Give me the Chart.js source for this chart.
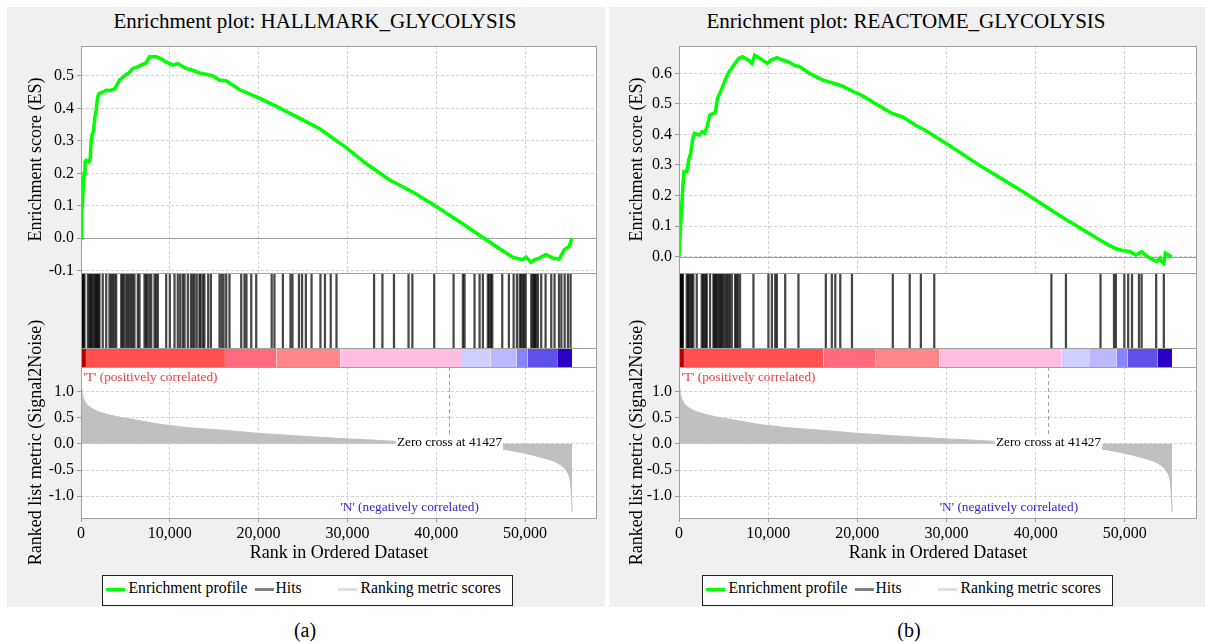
<!DOCTYPE html>
<html>
<head>
<meta charset="utf-8">
<title>GSEA enrichment plots</title>
<script src="https://cdn.jsdelivr.net/npm/chart.js@4.4.1/dist/chart.umd.min.js"></script>
<style>
  html, body { margin: 0; padding: 0; background: #fff; }
  body { position: relative; width: 1205px; height: 642px; overflow: hidden;
         font-family: "Liberation Serif", "Times New Roman", serif; color: #000; }
  .panel { position: absolute; top: 7px; height: 600px; background: #f0f0f0; }
  canvas { position: absolute; }
  .plot-title { position: absolute; top: 11px; font-size: 21px; line-height: 1; white-space: nowrap; transform: translateX(-50%); }
  .legend { position: absolute; top: 575px; width: 411px; height: 31px; box-sizing: border-box; border: 1.5px solid #222; background: #fff; }
  .legend i { position: absolute; top: 12px; width: 19px; height: 2.5px; }
  .legend span { position: absolute; top: 3.5px; font-size: 15.7px; line-height: 1; white-space: nowrap; }
  .caption { position: absolute; top: 620px; font-size: 20px; line-height: 1; transform: translateX(-50%); }
</style>
</head>
<body>
<div class="panel" style="left:7px;width:598px"></div>
<div class="panel" style="left:609px;width:596px"></div>
<div class="plot-title" style="left:315px">Enrichment plot: HALLMARK_GLYCOLYSIS</div>
<div class="plot-title" style="left:906px">Enrichment plot: REACTOME_GLYCOLYSIS</div>

<div class="legend" style="left:102px">
  <i style="left:2.5px;background:#00ff00"></i><span style="left:25.5px">Enrichment profile</span>
  <i style="left:151.5px;background:#808080"></i><span style="left:172.5px">Hits</span>
  <i style="left:234.5px;background:#e0e0e0"></i><span style="left:257.5px">Ranking metric scores</span>
</div>
<div class="legend" style="left:702px">
  <i style="left:2.5px;background:#00ff00"></i><span style="left:25.5px">Enrichment profile</span>
  <i style="left:151.5px;background:#808080"></i><span style="left:172.5px">Hits</span>
  <i style="left:234.5px;background:#e0e0e0"></i><span style="left:257.5px">Ranking metric scores</span>
</div>
<div class="caption" style="left:305px">(a)</div>
<div class="caption" style="left:909px">(b)</div>

<script>
/* ================= DATA ================= */

// HALLMARK_GLYCOLYSIS running enrichment score
const hallmarkRanks = [0, 60, 150, 250, 350, 450, 580, 900, 1030, 1150, 1260, 1400, 1550, 1710, 1850, 2000, 2300, 2830, 3300, 3770,
    4000, 4330, 4900, 5400, 5830, 6300, 6770, 7330, 7700, 8460, 9000, 9580, 10330, 10890, 11830, 12500, 13330, 14100, 14830, 15580,
    16330, 17830, 19890, 21950, 24580, 26830, 29830, 32080, 34720, 37500, 40000, 42500, 45050, 47000, 48600, 49720, 50100, 50660, 51100, 51600,
    52350, 53100, 53850, 54410, 54970, 55270];
const hallmarkES = [0, 0.08, 0.1, 0.16, 0.2, 0.235, 0.24, 0.235, 0.245, 0.3, 0.32, 0.33, 0.37, 0.395, 0.43, 0.445, 0.448, 0.456, 0.455, 0.46,
    0.47, 0.487, 0.5, 0.51, 0.523, 0.527, 0.533, 0.54, 0.559, 0.559, 0.553, 0.543, 0.533, 0.538, 0.523, 0.518, 0.509, 0.505, 0.5, 0.487,
    0.485, 0.458, 0.434, 0.407, 0.37, 0.338, 0.28, 0.23, 0.18, 0.14, 0.098, 0.053, 0.006, -0.03, -0.058, -0.066, -0.058, -0.074, -0.066, -0.061,
    -0.05, -0.061, -0.064, -0.035, -0.025, 0];
const hallmarkHits = [20, 110, 200, 300, 390, 770, 960, 1070, 1180, 1330, 1520, 1630, 1750, 1860, 1970, 2080, 2450, 2840, 3210, 3400,
    3580, 3770, 3960, 4530, 4670, 4840, 5090, 5270, 5460, 5650, 5830, 6020, 6400, 6590, 7150, 7320, 7490, 7710, 7910, 8280,
    8470, 8650, 9590, 10000, 10530, 10900, 11170, 11460, 11660, 12030, 12380, 12590, 12780, 13030, 13340, 13460, 13720, 13890, 14320, 14620,
    15600, 15830, 16050, 16350, 16720, 18040, 18410, 18630, 19170, 19730, 21470, 21780, 22730, 23590, 23810, 24540, 24890, 25320, 25960, 26960,
    27470, 28120, 28770, 33000, 33940, 35240, 36880, 37310, 39770, 41950, 43000, 43190, 44310, 44880, 45250, 45810, 45980, 46150, 46310, 47430,
    48180, 48710, 49080, 49390, 49560, 49730, 49900, 50070, 50700, 50850, 51000, 51130, 51260, 51450, 51820, 52310, 52950, 53320, 53820, 54090,
    54460, 54830, 55130];

// REACTOME_GLYCOLYSIS running enrichment score
const reactomeRanks = [0, 130, 260, 430, 560, 870, 1080, 1300, 1520, 1730, 2290, 2590, 2890, 3150, 3450, 3880, 4090, 4310, 4740, 5170,
    5600, 6030, 6680, 7110, 7750, 8180, 8490, 9260, 9910, 10340, 10980, 11630, 12280, 12920, 13570, 14640, 16150, 17440, 18300, 19590,
    20450, 23900, 25190, 26480, 27560, 29930, 34240, 38550, 42850, 47160, 48880, 49730, 50600, 51240, 51890, 52530, 53180, 53610, 53950, 54130,
    54380, 54560, 54900, 55250];
const reactomeES = [0, 0.076, 0.142, 0.229, 0.278, 0.278, 0.316, 0.338, 0.382, 0.404, 0.398, 0.409, 0.404, 0.425, 0.464, 0.469, 0.475, 0.518, 0.546, 0.578,
    0.605, 0.622, 0.649, 0.655, 0.644, 0.633, 0.66, 0.646, 0.633, 0.644, 0.652, 0.644, 0.638, 0.627, 0.622, 0.6, 0.578, 0.567, 0.559, 0.54,
    0.529, 0.469, 0.456, 0.431, 0.415, 0.371, 0.289, 0.213, 0.131, 0.055, 0.027, 0.02, 0.016, 0.005, 0.016, 0, -0.011, -0.016, -0.005, -0.016,
    -0.022, 0.011, 0.005, -0.002];
const reactomeHits = [10, 60, 120, 200, 280, 360, 440, 870, 1000, 1150, 1300, 1450, 1610, 1990, 2550, 2700, 2850, 3000, 3110, 3480,
    3860, 3980, 4110, 4230, 4420, 4550, 4700, 4850, 5000, 5200, 5360, 5540, 5700, 5920, 6290, 6450, 6600, 6850, 8350, 10030,
    10420, 10790, 10980, 11910, 13400, 16470, 17140, 17530, 18090, 19400, 23980, 25880, 27130, 28630, 41770, 43400, 47280, 48790, 49000, 49950,
    50380, 50810, 51590, 51890, 53520, 54380];

// ranked list metric (Signal2Noise), shared by both gene sets
const metricRanks = [0, 100, 300, 600, 1000, 1500, 2000, 3000, 4000, 5000, 6000, 7000, 8000, 9000, 10000,
    12000, 14000, 16000, 18000, 20000, 22000, 24000, 26000, 28000, 30000, 32000, 34000, 36000, 38000, 40000,
    41427, 43000, 45000, 47000, 48000, 49000, 50000, 51000, 52000, 53000, 53500, 54000, 54500, 54900, 55100, 55200, 55300];
const metricValues = [1.05, 0.98, 0.86, 0.76, 0.7, 0.65, 0.61, 0.56, 0.52, 0.49, 0.46, 0.43, 0.4, 0.37, 0.35,
    0.31, 0.285, 0.26, 0.23, 0.2, 0.18, 0.155, 0.135, 0.115, 0.095, 0.08, 0.06, 0.045, 0.03, 0.012,
    0, -0.02, -0.05, -0.09, -0.115, -0.145, -0.18, -0.22, -0.265, -0.315, -0.35, -0.4, -0.47, -0.58, -0.7, -0.9, -1.3];
const ZERO_CROSS = 41427;

// heat bar bins along the ranked list
const heatEdges = [0, 550, 16200, 22000, 29200, 42900, 46100, 49060, 50300, 53700, 55300];
const heatColors = ['#b40000', '#ff4f4f', '#ff6a7c', '#ff8686', '#ffbde1', '#cfcffd', '#bcb8fc', '#8686fa', '#5f50ea', '#2a00c6'];

// rank axis tick labels
const rankTicks = [0, 10000, 20000, 30000, 40000, 50000];

/* ================= LAYOUT ================= */

const SERIF = "'Liberation Serif', 'Times New Roman', serif";
const X_MAX = 58100;
const HEAT_TOP = 0.2;
const ES_TOP = 46, ES_BOTTOM = 273, BAR_BOTTOM = 367, METRIC_BOTTOM = 518;

Chart.defaults.font.family = SERIF;
Chart.defaults.color = '#000';

const panels = [
    { left: 8, plotLeft: 81, plotRight: 597, esRanks: hallmarkRanks, esScores: hallmarkES,
      esMin: -0.107, esMax: 0.592, hits: hallmarkHits },
    { left: 609, plotLeft: 679, plotRight: 1197, esRanks: reactomeRanks, esScores: reactomeES,
      esMin: -0.054, esMax: 0.69, hits: reactomeHits }
];

/* ================= PLUGINS ================= */

const plotBackground = {
    id: 'plotBackground',
    beforeDraw(chart) {
        const { ctx, chartArea: a } = chart;
        ctx.save();
        ctx.fillStyle = '#fff';
        ctx.fillRect(a.left, a.top, a.right - a.left, a.bottom - a.top);
        ctx.restore();
    }
};

const plotFrame = {
    id: 'plotFrame',
    afterDatasetsDraw(chart) {
        const { ctx, chartArea: a } = chart;
        ctx.save();
        ctx.strokeStyle = '#a0a0a0';
        ctx.lineWidth = 1;
        ctx.strokeRect(a.left + 0.5, a.top + 0.5, a.right - a.left - 1, a.bottom - a.top);
        ctx.restore();
    }
};

function horizontalRule(chart, value) {
    const { ctx, chartArea: a, scales } = chart;
    const py = Math.round(scales.y.getPixelForValue(value)) + 0.5;
    ctx.save();
    ctx.strokeStyle = '#a0a0a0';
    ctx.lineWidth = 1;
    ctx.beginPath();
    ctx.moveTo(a.left, py);
    ctx.lineTo(a.right, py);
    ctx.stroke();
    ctx.restore();
}

const esZeroLine = {
    id: 'esZeroLine',
    beforeDatasetsDraw(chart) { horizontalRule(chart, 0); }
};

const heatSeparator = {
    id: 'heatSeparator',
    afterDatasetsDraw(chart) { horizontalRule(chart, HEAT_TOP); }
};

const metricNotes = {
    id: 'metricNotes',
    afterDatasetsDraw(chart) {
        const { ctx, chartArea: a, scales } = chart;
        const x0 = Math.round(scales.x.getPixelForValue(ZERO_CROSS)) + 0.5;
        const y0 = scales.y.getPixelForValue(0);
        ctx.save();

        // zero cross marker
        ctx.strokeStyle = '#a0a0a0';
        ctx.lineWidth = 1;
        ctx.setLineDash([4, 3]);
        ctx.beginPath();
        ctx.moveTo(x0, a.top);
        ctx.lineTo(x0, y0);
        ctx.stroke();
        ctx.setLineDash([]);

        ctx.font = '13.3px ' + SERIF;
        const label = 'Zero cross at ' + ZERO_CROSS;
        const w = ctx.measureText(label).width;
        ctx.fillStyle = '#fff';
        ctx.fillRect(x0 - w / 2 - 1, y0 - 9, w + 2, 17);
        ctx.fillStyle = '#000';
        ctx.textAlign = 'center';
        ctx.textBaseline = 'middle';
        ctx.fillText(label, x0, y0 - 1.5);

        ctx.textBaseline = 'alphabetic';
        ctx.textAlign = 'left';
        ctx.fillStyle = '#f03c3c';
        ctx.fillText("'T' (positively correlated)", a.left + 2.5, a.top + 14);

        ctx.textAlign = 'center';
        ctx.fillStyle = '#3a22d6';
        ctx.fillText("'N' (negatively correlated)", scales.x.getPixelForValue(37000), a.bottom - 7);
        ctx.restore();
    }
};

/* ================= HELPERS ================= */

function addCanvas(left, top, width, height) {
    const c = document.createElement('canvas');
    c.width = width;
    c.height = height;
    c.style.left = left + 'px';
    c.style.top = top + 'px';
    c.style.width = width + 'px';
    c.style.height = height + 'px';
    document.body.appendChild(c);
    return c;
}

function commonOptions(padTop, padBottom) {
    return {
        responsive: false,
        animation: false,
        events: [],
        layout: { padding: { left: 0, right: 3, top: padTop, bottom: padBottom } },
        plugins: { legend: { display: false }, tooltip: { enabled: false } }
    };
}

function useRankTicks(scale) {
    scale.ticks = rankTicks.map(v => ({ value: v }));
}

function hiddenX(showGrid) {
    return {
        type: 'linear', min: 0, max: X_MAX, offset: false,
        ticks: { display: false },
        grid: { display: showGrid, color: '#d2d2d2', drawTicks: false, offset: false },
        border: { display: false, dash: [3, 2] },
        afterBuildTicks: useRankTicks,
        afterFit: s => { s.height = 0; }
    };
}

/* ================= CHARTS ================= */

function drawPanel(p) {
    const yWidth = p.plotLeft - p.left;
    const width = p.plotRight + 3 - p.left;

    // enrichment profile
    const esTop = 30, esBottom = 290;
    const esOpts = commonOptions(ES_TOP - esTop, esBottom - ES_BOTTOM);
    esOpts.scales = {
        x: hiddenX(true),
        y: {
            min: p.esMin, max: p.esMax,
            ticks: { stepSize: 0.1, includeBounds: false, padding: 3, font: { size: 16 }, callback: v => Number(v).toFixed(1) },
            grid: { color: '#d2d2d2', tickLength: 4, tickColor: '#999' },
            border: { display: false, dash: [3, 2] },
            title: { display: true, text: 'Enrichment score (ES)', font: { size: 18 }, padding: { top: 17, bottom: 0 } },
            afterFit: s => { s.width = yWidth; }
        }
    };
    new Chart(addCanvas(p.left, esTop, width, esBottom - esTop), {
        type: 'line',
        data: {
            datasets: [{
                data: p.esRanks.map((r, i) => ({ x: r, y: p.esScores[i] })),
                borderColor: '#00ff00', borderWidth: 3.5, pointRadius: 0, tension: 0
            }]
        },
        options: esOpts,
        plugins: [plotBackground, esZeroLine, plotFrame]
    });

    // hits and heat bar
    const hitTop = 262, hitBottom = 376;
    const hitOpts = commonOptions(ES_BOTTOM - hitTop, hitBottom - BAR_BOTTOM);
    hitOpts.scales = {
        x: hiddenX(false),
        y: {
            min: 0, max: 1,
            ticks: { display: false },
            grid: { display: false, drawTicks: false },
            border: { display: false },
            afterFit: s => { s.width = yWidth; }
        }
    };
    const heatSets = heatColors.map((color, i) => ({
        type: 'line',
        data: [{ x: heatEdges[i], y: HEAT_TOP }, { x: heatEdges[i + 1], y: HEAT_TOP }],
        fill: { value: 0 },
        backgroundColor: color,
        borderWidth: 0, pointRadius: 0,
        order: 2
    }));
    new Chart(addCanvas(p.left, hitTop, width, hitBottom - hitTop), {
        type: 'line',
        data: {
            datasets: [
                {
                    type: 'bar', stack: 'hits', order: 0,
                    data: p.hits.map(r => ({ x: r, y: [HEAT_TOP, 1] })),
                    backgroundColor: 'rgba(0,0,0,0.72)', barThickness: 1.6, borderWidth: 0
                },
                {
                    type: 'bar', stack: 'hits', order: 1,
                    data: p.hits.map(r => ({ x: r, y: [0, HEAT_TOP] })),
                    backgroundColor: 'rgba(0,0,0,0.12)', barThickness: 1.6, borderWidth: 0
                },
                ...heatSets
            ]
        },
        options: hitOpts,
        plugins: [plotBackground, heatSeparator, plotFrame]
    });

    // ranked list metric
    const mTop = 300, mBottom = 572;
    const mOpts = commonOptions(BAR_BOTTOM - mTop, 0);
    mOpts.scales = {
        x: {
            type: 'linear', min: 0, max: X_MAX, offset: false,
            ticks: { padding: 2, font: { size: 16 }, maxRotation: 0,
                     callback: v => Number(v).toLocaleString('en-US') },
            grid: { color: '#d2d2d2', tickLength: 4, tickColor: '#999' },
            border: { display: false, dash: [3, 2] },
            title: { display: true, text: 'Rank in Ordered Dataset', font: { size: 18 }, padding: { top: 0, bottom: 8 } },
            afterBuildTicks: useRankTicks,
            afterFit: s => { s.height = mBottom - METRIC_BOTTOM; }
        },
        y: {
            min: -1.415, max: 1.467,
            ticks: { stepSize: 0.5, includeBounds: false, padding: 3, font: { size: 16 }, callback: v => Number(v).toFixed(1) },
            grid: { color: '#d2d2d2', tickLength: 4, tickColor: '#999' },
            border: { display: false, dash: [3, 2] },
            title: { display: true, text: 'Ranked list metric (Signal2Noise)', font: { size: 18 }, padding: { top: 17, bottom: 0 } },
            afterFit: s => { s.width = yWidth; }
        }
    };
    new Chart(addCanvas(p.left, mTop, width, mBottom - mTop), {
        type: 'line',
        data: {
            datasets: [{
                data: metricRanks.map((r, i) => ({ x: r, y: metricValues[i] })),
                fill: 'origin',
                backgroundColor: '#c0c0c0', borderColor: '#c0c0c0', borderWidth: 1,
                pointRadius: 0, tension: 0
            }]
        },
        options: mOpts,
        plugins: [plotBackground, metricNotes, plotFrame]
    });
}

panels.forEach(drawPanel);
</script>
</body>
</html>
